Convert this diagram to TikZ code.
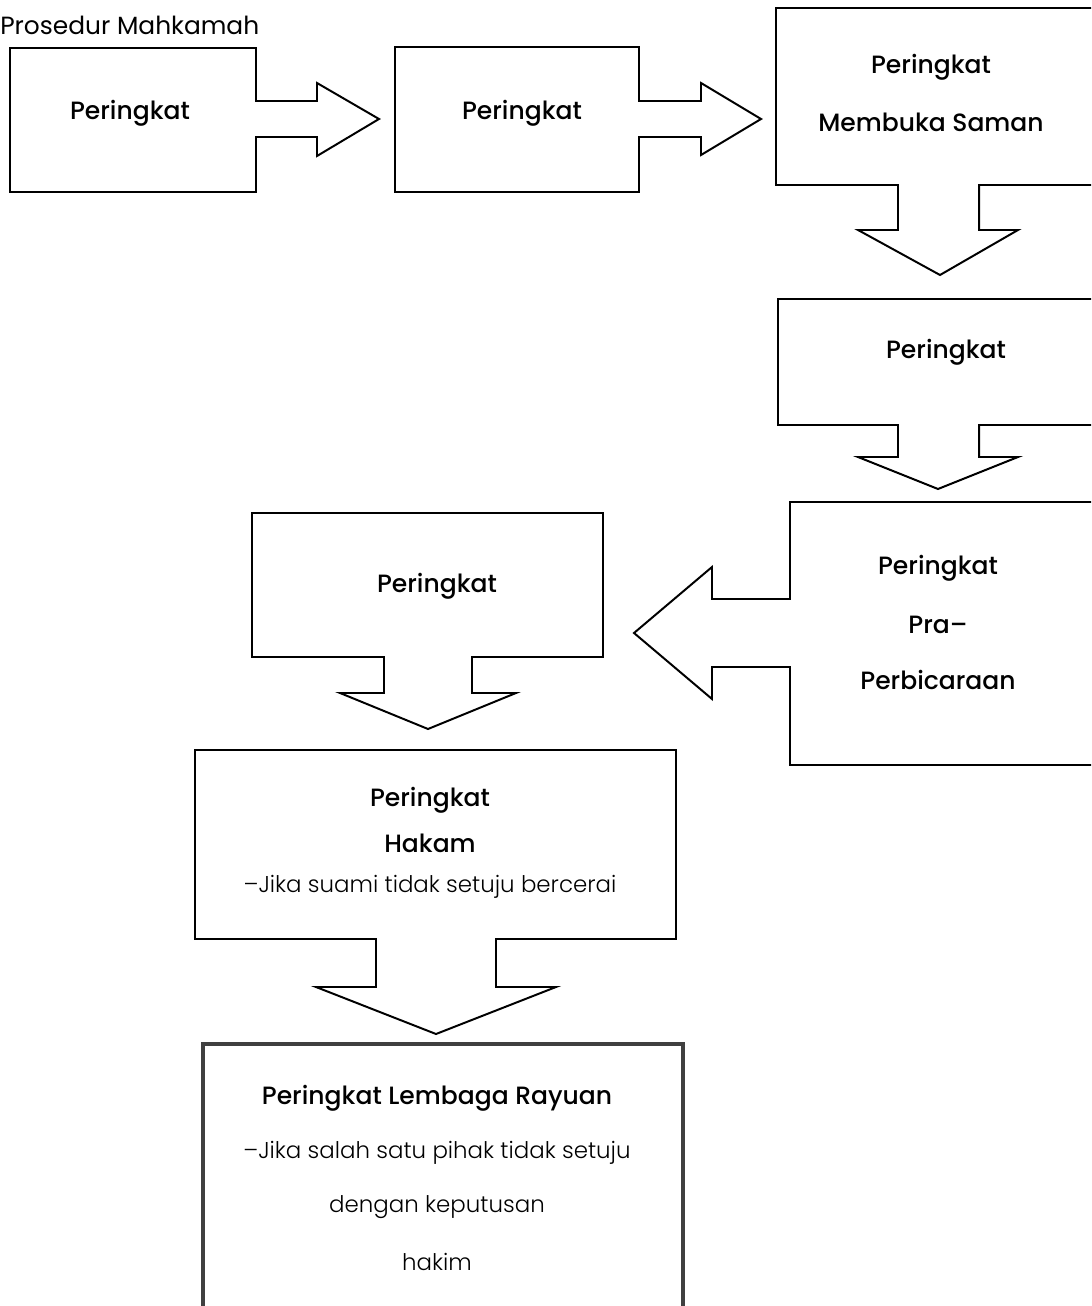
\documentclass[tikz,border=0pt]{standalone}
\usepackage{fontspec}
\setmainfont{Poppins}[BoldFont={Poppins Medium}]
\newfontfamily\lightfont{Poppins Light}
\usetikzlibrary{positioning}

\begin{document}
\begin{tikzpicture}[x=0.025cm, y=-0.025cm,
    stage/.style={draw=black, line width=1.4pt, line join=miter},
    laststage/.style={draw=black!75, line width=2.2pt},
    head/.style={font=\bfseries\fontsize{17.8}{21}\selectfont, inner sep=0pt, anchor=center},
    note/.style={font=\lightfont\fontsize{16.3}{20}\selectfont, inner sep=0pt, anchor=center}
]
    \useasboundingbox (0,0) rectangle (1091,1306);
    \clip (0,0) rectangle (1091,1306);

    \node[font=\fontsize{17.7}{21}\selectfont, inner sep=0pt, anchor=west] (title) at (0,25) {Prosedur Mahkamah};

    % Stage outlines with their arrows
    \draw[stage] (10,48) -- (256,48) -- (256,101) -- (317,101) -- (317,83) -- (379,119) -- (317,156) -- (317,137) -- (256,137) -- (256,192) -- (10,192) -- cycle;
    \draw[stage] (395,47) -- (639,47) -- (639,101) -- (701,101) -- (701,83) -- (761,119) -- (701,155) -- (701,137) -- (639,137) -- (639,192) -- (395,192) -- cycle;
    \draw[stage] (776,8) -- (1100,8) -- (1100,185) -- (979,185) -- (979,230) -- (1018,230) -- (940,275) -- (858,230) -- (898,230) -- (898,185) -- (776,185) -- cycle;
    \draw[stage] (778,299) -- (1100,299) -- (1100,425) -- (979,425) -- (979,457) -- (1018,457) -- (938,489) -- (858,457) -- (898,457) -- (898,425) -- (778,425) -- cycle;
    \draw[stage] (790,502) -- (1100,502) -- (1100,765) -- (790,765) -- (790,667) -- (712,667) -- (712,699) -- (634,633) -- (712,567) -- (712,599) -- (790,599) -- cycle;
    \draw[stage] (252,513) -- (603,513) -- (603,657) -- (472,657) -- (472,693) -- (516,693) -- (428,729) -- (340,693) -- (384,693) -- (384,657) -- (252,657) -- cycle;
    \draw[stage] (195,750) -- (676,750) -- (676,939) -- (496,939) -- (496,987) -- (556,987) -- (436,1034) -- (316,987) -- (376,987) -- (376,939) -- (195,939) -- cycle;
    \draw[laststage] (203,1044) rectangle (683,1330);

    % Stage labels
    \node[head] (s1) at (130,113) {Peringkat};
    \node[head] (s2) at (522,113) {Peringkat};
    \node[head] (s3) at (931,67) {Peringkat};
    \node[head] (s3b) at (931,122) {Membuka Saman};
    \node[head] (s4) at (946,352) {Peringkat};
    \node[head] (s5) at (938,568) {Peringkat};
    \node[head] (s5b) at (938,625) {Pra–};
    \node[head] (s5c) at (938,680) {Perbicaraan};
    \node[head] (s6) at (437,586) {Peringkat};
    \node[head] (s7) at (430,800) {Peringkat};
    \node[head] (s7b) at (430,843) {Hakam};
    \node[note] (s7c) at (430,887) {–Jika suami tidak setuju bercerai};
    \node[head] (s8) at (437,1098) {Peringkat Lembaga Rayuan};
    \node[note] (s8b) at (437,1153) {–Jika salah satu pihak tidak setuju};
    \node[note] (s8c) at (437,1207) {dengan keputusan};
    \node[note] (s8d) at (437,1262) {hakim};
\end{tikzpicture}
\end{document}
